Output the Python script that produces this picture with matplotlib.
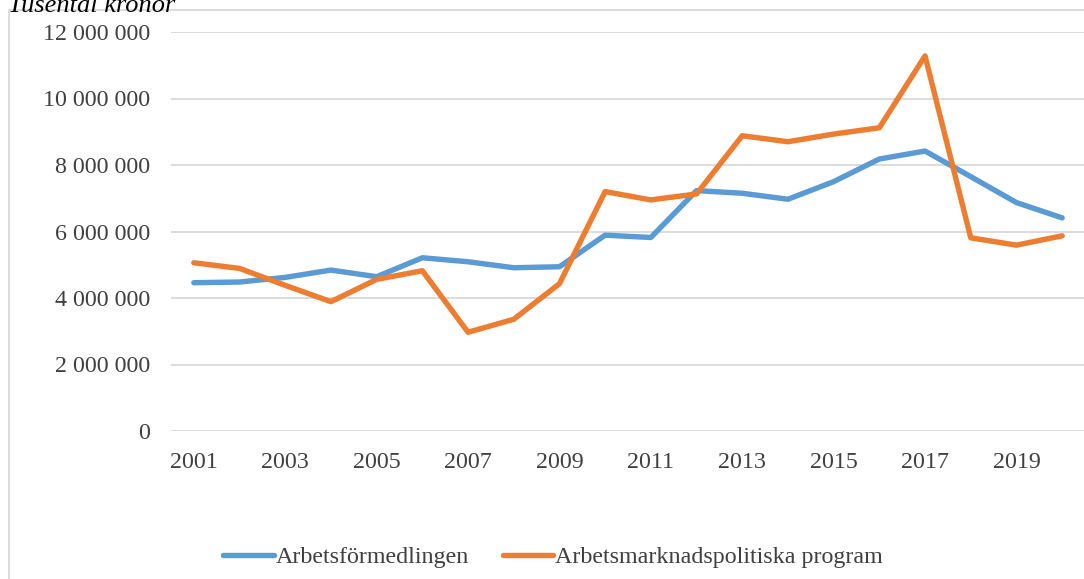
import matplotlib
matplotlib.use('agg')

import matplotlib.pyplot as plt
import matplotlib.ticker as mticker
from matplotlib.patches import Rectangle

# data (tusental kronor)
years = list(range(2001, 2021))
arbetsformedlingen = [4.46, 4.48, 4.62, 4.84, 4.64, 5.21, 5.09, 4.91, 4.94, 5.89,
                      5.82, 7.23, 7.15, 6.97, 7.50, 8.18, 8.42, 7.65, 6.87, 6.41]
program = [5.06, 4.89, 4.38, 3.89, 4.56, 4.82, 2.97, 3.36, 4.43, 7.20,
           6.95, 7.13, 8.88, 8.70, 8.93, 9.12, 11.28, 5.81, 5.59, 5.87]
arbetsformedlingen = [v * 1e6 for v in arbetsformedlingen]
program = [v * 1e6 for v in program]

series_names = ["Arbetsförmedlingen", "Arbetsmarknadspolitiska program"]
colors = ["#5B9BD5", "#ED7D31"]
xtick_years = years[::2]

plt.rcParams['font.family'] = ['Liberation Serif', 'DejaVu Serif']

W, H = 1084, 579
fig = plt.figure(figsize=(W / 100, H / 100), dpi=100)
ax = fig.add_axes([171 / W, 1 - 431 / H, (1085 - 171) / W, (431 - 32) / H])

ax.plot(years, arbetsformedlingen, color=colors[0], lw=3.9,
        solid_capstyle='round', solid_joinstyle='round', label=series_names[0], zorder=3)
ax.plot(years, program, color=colors[1], lw=3.9,
        solid_capstyle='round', solid_joinstyle='round', label=series_names[1], zorder=3)

ax.set_xlim(2000.5, 2020.5)
ax.set_ylim(0, 12e6)
ax.set_yticks(range(0, 12000001, 2000000))
ax.yaxis.set_major_formatter(mticker.FuncFormatter(
    lambda v, p: "{:,.0f}".format(v).replace(",", " ")))
ax.set_xticks(xtick_years)
ax.set_xticklabels([str(y) for y in xtick_years])

ax.grid(axis='y', color='#d9d9d9', lw=1.3)
ax.set_axisbelow(True)
for s in ax.spines.values():
    s.set_visible(False)
ax.tick_params(length=0, labelsize=17.3, labelcolor='#404040')
ax.tick_params(axis='y', pad=15)
ax.tick_params(axis='x', pad=15)

fig.text(8 / W, 1 - 12 / H, "Tusental kronor", fontsize=19, style='italic',
         ha='left', va='baseline')

fig.patches.append(Rectangle((9 / W, -0.1), 1.2, 1.1 - 10 / H, transform=fig.transFigure,
                             fill=False, edgecolor='#d9d9d9', lw=1.3))

leg = fig.legend(loc='center', bbox_to_anchor=(553 / W, 22 / H), ncol=2, frameon=False,
                 fontsize=17.3, handlelength=2.1, handletextpad=0.08, columnspacing=1.4)
for t in leg.get_texts():
    t.set_color('#404040')

fig.savefig("out.png", dpi=100)
